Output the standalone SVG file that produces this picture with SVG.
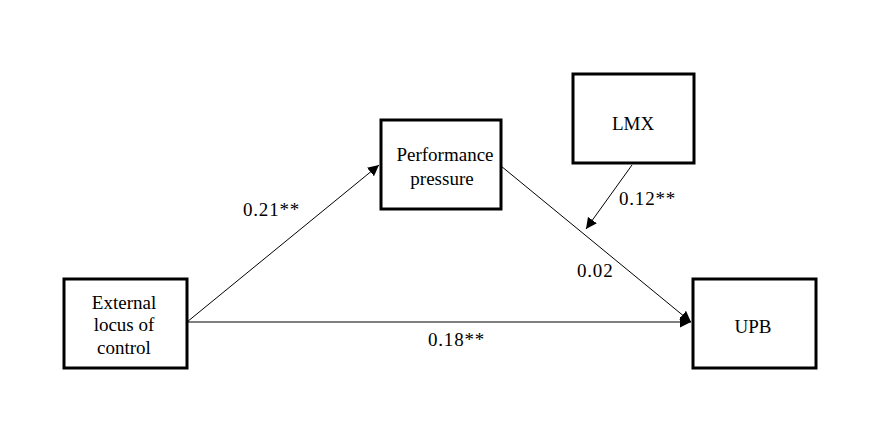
<svg xmlns="http://www.w3.org/2000/svg" width="885" height="440" viewBox="0 0 885 440">
<style>
.box{fill:#fff;stroke:#000;stroke-width:3}
.t{font-family:"Liberation Serif","Times New Roman",serif;font-size:19px;fill:#000}
.n{letter-spacing:0.8px}
.c{text-anchor:middle}
.ln{stroke:#000;stroke-width:1;fill:none}
</style>
<defs>
<marker id="ah" viewBox="0 0 10 10" refX="10" refY="5" markerWidth="11" markerHeight="11" markerUnits="userSpaceOnUse" orient="auto">
<path d="M0,0 L10,5 L0,10 z" fill="#000"/>
</marker>
</defs>
<rect width="885" height="440" fill="#fff"/>
<g id="connectors">
<line class="ln" x1="187" y1="322" x2="379" y2="165" marker-end="url(#ah)"/>
<line class="ln" x1="187" y1="322" x2="691" y2="322" marker-end="url(#ah)"/>
<line class="ln" x1="501" y1="166" x2="691" y2="322" marker-end="url(#ah)"/>
<line class="ln" x1="632" y1="165" x2="586" y2="229" marker-end="url(#ah)"/>
<text class="t n" x="243" y="216">0.21**</text>
<text class="t n" x="619" y="205">0.12**</text>
<text class="t n" x="577" y="277">0.02</text>
<text class="t n" x="428" y="346">0.18**</text>
</g>
<g id="ext">
<rect class="box" x="64" y="279" width="123" height="89"/>
<text class="t c" x="124" y="309">External</text>
<text class="t c" x="124" y="331">locus of</text>
<text class="t c" x="124" y="354">control</text>
</g>
<g id="perf">
<rect class="box" x="381" y="120" width="120" height="89"/>
<text class="t c" x="445" y="161">Performance</text>
<text class="t c" x="442" y="185">pressure</text>
</g>
<g id="lmx">
<rect class="box" x="573" y="74" width="121" height="89"/>
<text class="t c" x="633" y="130">LMX</text>
</g>
<g id="upb">
<rect class="box" x="693" y="279" width="123" height="89"/>
<text class="t c" x="753" y="333">UPB</text>
</g>
</svg>
